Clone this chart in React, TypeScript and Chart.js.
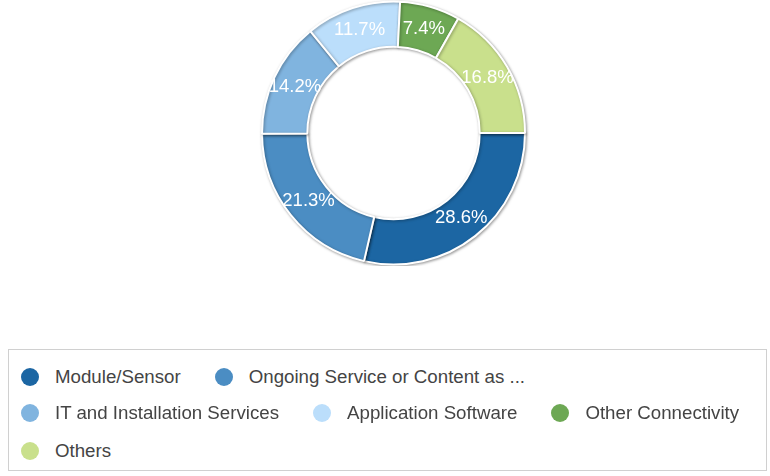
import React, { useEffect, useRef } from "react";
import { Chart, registerables } from "chart.js";

Chart.register(...registerables);

const categories = [
  "Module/Sensor",
  "Ongoing Service or Content as ...",
  "IT and Installation Services",
  "Application Software",
  "Other Connectivity",
  "Others",
];
const shares = [28.6, 21.3, 14.2, 11.7, 7.4, 16.8];
const colors = ["#1c66a3", "#4b8dc3", "#80b4df", "#bbdefb", "#6da854", "#c9e08c"];
const legendRows = [[0, 1], [2, 3, 4], [5]];

const FONT = '"Liberation Sans", Arial, sans-serif';

const shadowPlugin = {
  id: "ringShadow",
  beforeDatasetsDraw(chart: any) {
    const ctx = chart.ctx;
    ctx.save();
    ctx.shadowColor = "rgba(0,0,0,0.35)";
    ctx.shadowBlur = 3;
    ctx.shadowOffsetX = 1;
    ctx.shadowOffsetY = 1;
  },
  afterDatasetsDraw(chart: any) {
    chart.ctx.restore();
  },
};

const labelPlugin = {
  id: "sliceLabels",
  afterDraw(chart: any) {
    const ctx = chart.ctx;
    const meta = chart.getDatasetMeta(0);
    const data = chart.data.datasets[0].data as number[];
    ctx.save();
    ctx.font = `18.5px ${FONT}`;
    ctx.fillStyle = "#ffffff";
    ctx.textAlign = "center";
    ctx.textBaseline = "middle";
    meta.data.forEach((arc: any, i: number) => {
      const p = arc.getProps(["x", "y", "startAngle", "endAngle", "innerRadius", "outerRadius"], true);
      const mid = (p.startAngle + p.endAngle) / 2;
      const r = (p.innerRadius + p.outerRadius) / 2;
      ctx.fillText(`${data[i].toFixed(1)}%`, p.x + Math.cos(mid) * r, p.y + Math.sin(mid) * r);
    });
    ctx.restore();
  },
};

export default function App() {
  const ref = useRef<HTMLCanvasElement | null>(null);
  useEffect(() => {
    if (!ref.current) return;
    const chart = new Chart(ref.current, {
      type: "doughnut",
      data: {
        labels: categories,
        datasets: [
          {
            data: shares,
            backgroundColor: colors,
            borderColor: "#ffffff",
            borderWidth: 2,
            hoverOffset: 0,
          },
        ],
      },
      options: {
        animation: false,
        responsive: false,
        rotation: 90,
        radius: 131.5,
        cutout: 86.5,
        layout: { padding: { left: 17, right: 0, top: 0, bottom: 0 } },
        plugins: {
          legend: { display: false },
          tooltip: { enabled: false },
        },
      },
      plugins: [shadowPlugin, labelPlugin],
    });
    return () => chart.destroy();
  }, []);

  return (
    <div style={{ position: "fixed", left: 0, top: 0, width: 770, height: 476, background: "#fff", fontFamily: FONT }}>
      <canvas ref={ref} width={770} height={266} style={{ position: "absolute", left: 0, top: 0, width: 770, height: 266 }} />
      <div
        style={{
          position: "absolute",
          left: 8,
          top: 349,
          width: 757,
          height: 120,
          border: "1px solid #d0d0d0",
          boxSizing: "content-box",
        }}
      >
        {legendRows.map((row, ri) => (
          <div
            key={ri}
            style={{ position: "absolute", left: 12, top: [15, 51, 89][ri], height: 24, display: "flex", alignItems: "center" }}
          >
            {row.map((idx) => (
              <div key={idx} style={{ display: "flex", alignItems: "center", marginRight: 34 }}>
                <span
                  style={{
                    display: "inline-block",
                    width: 18,
                    height: 18,
                    borderRadius: "50%",
                    background: colors[idx],
                    marginRight: 16,
                  }}
                />
                <span style={{ fontSize: 18.7, color: "#444", whiteSpace: "nowrap" }}>{categories[idx]}</span>
              </div>
            ))}
          </div>
        ))}
      </div>
    </div>
  );
}
